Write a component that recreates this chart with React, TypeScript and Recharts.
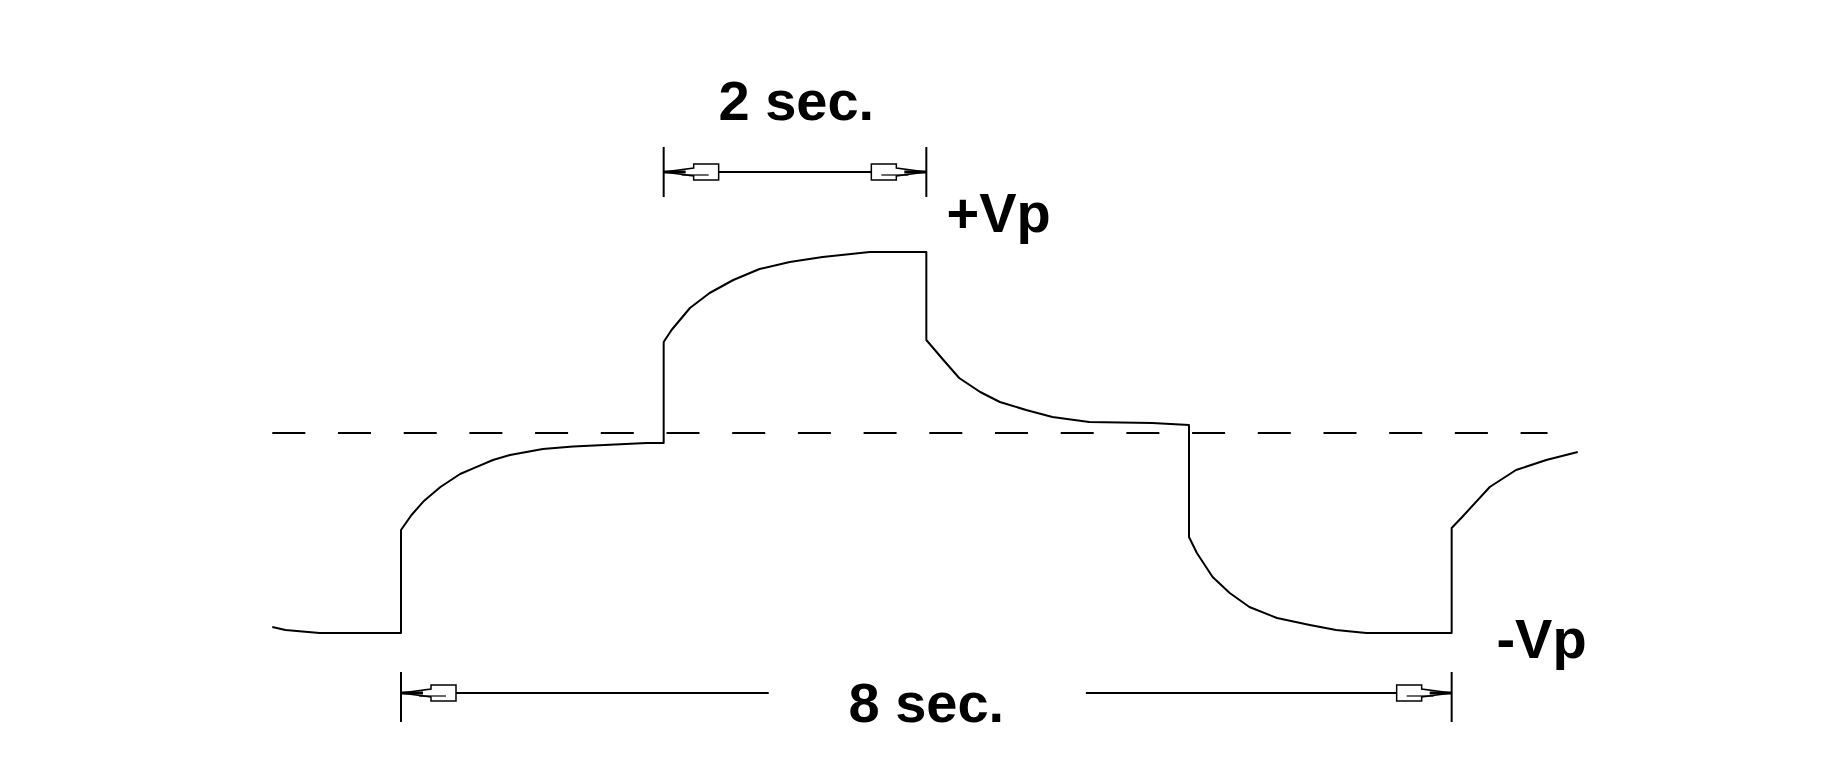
import {
  LineChart,
  Line,
  XAxis,
  YAxis,
  ReferenceLine,
  ReferenceDot,
} from 'recharts';

// time in seconds, voltage in units of Vp
const timeSec = [
  -0.98, -0.88, -0.62, 0, 0, 0.08, 0.17, 0.3, 0.45, 0.55, 0.7, 0.83, 1.08,
  1.31, 1.87, 2, 2, 2.06, 2.2, 2.35, 2.53, 2.73, 2.96, 3.21, 3.57, 4, 4, 4.13,
  4.25, 4.41, 4.56, 4.76, 4.96, 5.24, 5.72, 6, 6, 6.06, 6.18, 6.31, 6.46, 6.67,
  6.92, 7.12, 7.35, 8, 8, 8.08, 8.29, 8.49, 8.72, 8.96,
];
const voltage = [
  -0.97, -0.985, -1.0, -1.0, -0.485, -0.41, -0.343, -0.27, -0.205, -0.177,
  -0.135, -0.11, -0.08, -0.068, -0.05, -0.05, 0.455, 0.515, 0.625, 0.7, 0.765,
  0.82, 0.855, 0.88, 0.905, 0.905, 0.465, 0.365, 0.275, 0.205, 0.155, 0.115,
  0.08, 0.055, 0.05, 0.04, -0.52, -0.6, -0.72, -0.8, -0.87, -0.925, -0.96,
  -0.985, -1.0, -1.0, -0.475, -0.42, -0.27, -0.185, -0.135, -0.095,
];

// dashed zero line extent
const zeroLineT = [-0.98, 8.73];

// dimension markers (seconds)
const shortSpan = [2, 4];
const longSpan = [0, 8];
const longGap = [2.8, 5.215];

const waveData = timeSec.map((t, i) => ({ t, v: voltage[i] }));
const zeroData = zeroLineT.map((t) => ({ t, v: 0 }));

const FONT = '"Liberation Sans", Arial, sans-serif';
const INK = '#000';

function arrowHead(dir: number) {
  return (props: any) => {
    const { cx, cy } = props;
    const p = (x: number, y: number) => `${cx + dir * x},${cy + y}`;
    return (
      <g>
        <path
          d={`M${p(0, 0)} L${p(30, -4)} L${p(30, -8)} L${p(55, -8)} L${p(55, 8)} L${p(30, 8)} L${p(30, 4)} Z`}
          fill="#fff"
          stroke={INK}
          strokeWidth={1.5}
        />
        <line x1={cx} y1={cy} x2={cx + dir * 22} y2={cy} stroke={INK} strokeWidth={3} />
        <line x1={cx + dir * 18} y1={cy + 3} x2={cx + dir * 45} y2={cy + 3} stroke={INK} strokeWidth={1.2} />
      </g>
    );
  };
}

function textAt(value: string) {
  return (props: any) => (
    <text
      x={props.cx}
      y={props.cy}
      textAnchor="middle"
      fontFamily={FONT}
      fontWeight="bold"
      fontSize={56}
      fill={INK}
    >
      {value}
    </text>
  );
}

export default function App() {
  return (
    <div style={{ position: 'absolute', left: 0, top: 0, background: '#fff' }}>
      <LineChart
        width={1821}
        height={760}
        margin={{ top: 13, right: 41, bottom: 7, left: 7 }}
      >
        <XAxis dataKey="t" type="number" domain={[-3, 10.5]} hide allowDataOverflow />
        <YAxis type="number" domain={[-1.6, 2.1]} hide allowDataOverflow />

        {/* zero reference */}
        <Line
          data={zeroData}
          dataKey="v"
          type="linear"
          stroke={INK}
          strokeWidth={2}
          strokeDasharray="33 32.7"
          dot={false}
          activeDot={false}
          isAnimationActive={false}
        />

        {/* waveform */}
        <Line
          data={waveData}
          dataKey="v"
          type="linear"
          stroke={INK}
          strokeWidth={2}
          strokeLinejoin="round"
          dot={false}
          activeDot={false}
          isAnimationActive={false}
        />

        {/* 2 sec. dimension */}
        <ReferenceLine
          segment={[{ x: shortSpan[0], y: 1.305 }, { x: shortSpan[1], y: 1.305 }]}
          stroke={INK}
          strokeWidth={2}
        />
        <ReferenceLine
          segment={[{ x: shortSpan[0], y: 1.43 }, { x: shortSpan[0], y: 1.18 }]}
          stroke={INK}
          strokeWidth={2}
        />
        <ReferenceLine
          segment={[{ x: shortSpan[1], y: 1.43 }, { x: shortSpan[1], y: 1.18 }]}
          stroke={INK}
          strokeWidth={2}
        />

        {/* 8 sec. dimension */}
        <ReferenceLine
          segment={[{ x: longSpan[0], y: -1.3 }, { x: longGap[0], y: -1.3 }]}
          stroke={INK}
          strokeWidth={2}
        />
        <ReferenceLine
          segment={[{ x: longGap[1], y: -1.3 }, { x: longSpan[1], y: -1.3 }]}
          stroke={INK}
          strokeWidth={2}
        />
        <ReferenceLine
          segment={[{ x: longSpan[0], y: -1.195 }, { x: longSpan[0], y: -1.445 }]}
          stroke={INK}
          strokeWidth={2}
        />
        <ReferenceLine
          segment={[{ x: longSpan[1], y: -1.195 }, { x: longSpan[1], y: -1.445 }]}
          stroke={INK}
          strokeWidth={2}
        />

        <ReferenceDot x={shortSpan[0]} y={1.305} r={0} shape={arrowHead(1)} />
        <ReferenceDot x={shortSpan[1]} y={1.305} r={0} shape={arrowHead(-1)} />
        <ReferenceDot x={longSpan[0]} y={-1.3} r={0} shape={arrowHead(1)} />
        <ReferenceDot x={longSpan[1]} y={-1.3} r={0} shape={arrowHead(-1)} />

        {/* labels */}
        <ReferenceDot x={3.01} y={1.565} r={0} shape={textAt('2 sec.')} />
        <ReferenceDot x={4.55} y={1.006} r={0} shape={textAt('+Vp')} />
        <ReferenceDot x={8.684} y={-1.125} r={0} shape={textAt('-Vp')} />
        <ReferenceDot x={4.0} y={-1.445} r={0} shape={textAt('8 sec.')} />
      </LineChart>
    </div>
  );
}
